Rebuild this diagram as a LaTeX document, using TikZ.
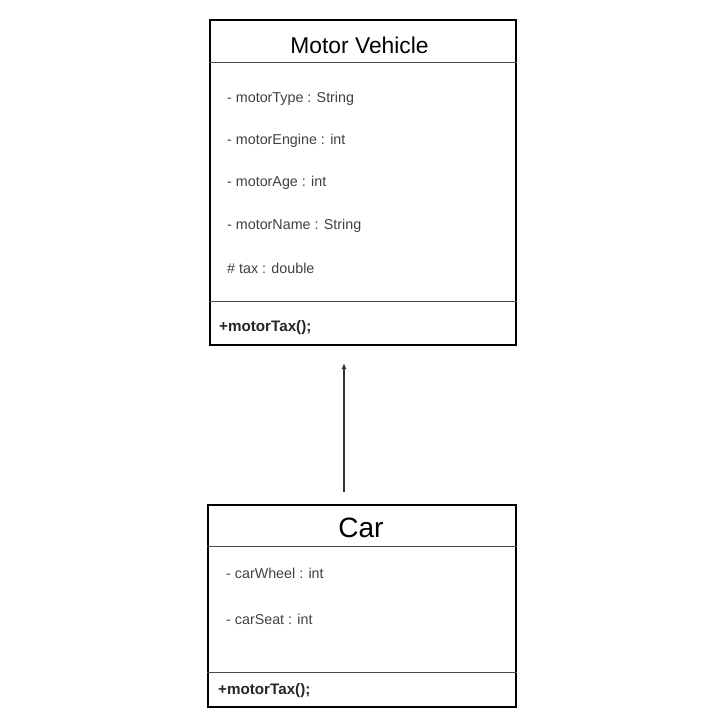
\documentclass[tikz,border=0pt]{standalone}
\usepackage{fontspec}
\setmainfont{Liberation Sans}
\usetikzlibrary{arrows.meta}
\begin{document}
\begin{tikzpicture}[x=1pt,y=-1pt,
  classbox/.style={draw=black,line width=2pt,rectangle,inner sep=0pt},
  divider/.style={draw=black!70,line width=0.9pt},
  attr/.style={anchor=west,inner sep=0pt,font=\fontsize{14.3}{16}\selectfont,text=black!75},
  meth/.style={anchor=west,inner sep=0pt,font=\bfseries\fontsize{15.2}{17}\selectfont,text=black!85},
  title/.style={inner sep=0pt,text=black},
  inherit/.style={draw=black!80,line width=1.2pt,-{Latex[length=6pt,width=5pt]}}]
\useasboundingbox (0,0) rectangle (727,727);
% Motor Vehicle
\node[classbox,minimum width=306pt,minimum height=325pt] (mv) at (363,182.5) {};
\node[title,font=\fontsize{22.8}{26}\selectfont] (mvt) at (359.5,45) {Motor Vehicle};
\coordinate (mvd1) at (0,62);
\coordinate (mvd2) at (0,301);
\draw[divider] (mvd1 -| mv.west) -- (mvd1 -| mv.east);
\draw[divider] (mvd2 -| mv.west) -- (mvd2 -| mv.east);
\node[attr] (a1) at (227,99) {- motorType : String};
\node[attr] (a2) at (227,141) {- motorEngine : int};
\node[attr] (a3) at (227,183) {- motorAge : int};
\node[attr] (a4) at (227,226) {- motorName : String};
\node[attr] (a5) at (227,268) {\# tax : double};
\node[meth] (m1) at (219,328) {+motorTax();};
% Car
\node[classbox,minimum width=308pt,minimum height=202pt] (car) at (362,606) {};
\node[title,font=\fontsize{28}{32}\selectfont] (cart) at (361,528) {Car};
\coordinate (cd1) at (0,546);
\coordinate (cd2) at (0,672);
\draw[divider] (cd1 -| car.west) -- (cd1 -| car.east);
\draw[divider] (cd2 -| car.west) -- (cd2 -| car.east);
\node[attr] (c1) at (226,573) {- carWheel : int};
\node[attr] (c2) at (226,619) {- carSeat : int};
\node[meth] (m2) at (218,691) {+motorTax();};
% inheritance arrow
\coordinate (ax) at (344,0);
\draw[inherit,shorten <=12pt,shorten >=17pt] (car.north -| ax) -- (mv.south -| ax);
\end{tikzpicture}
\end{document}
